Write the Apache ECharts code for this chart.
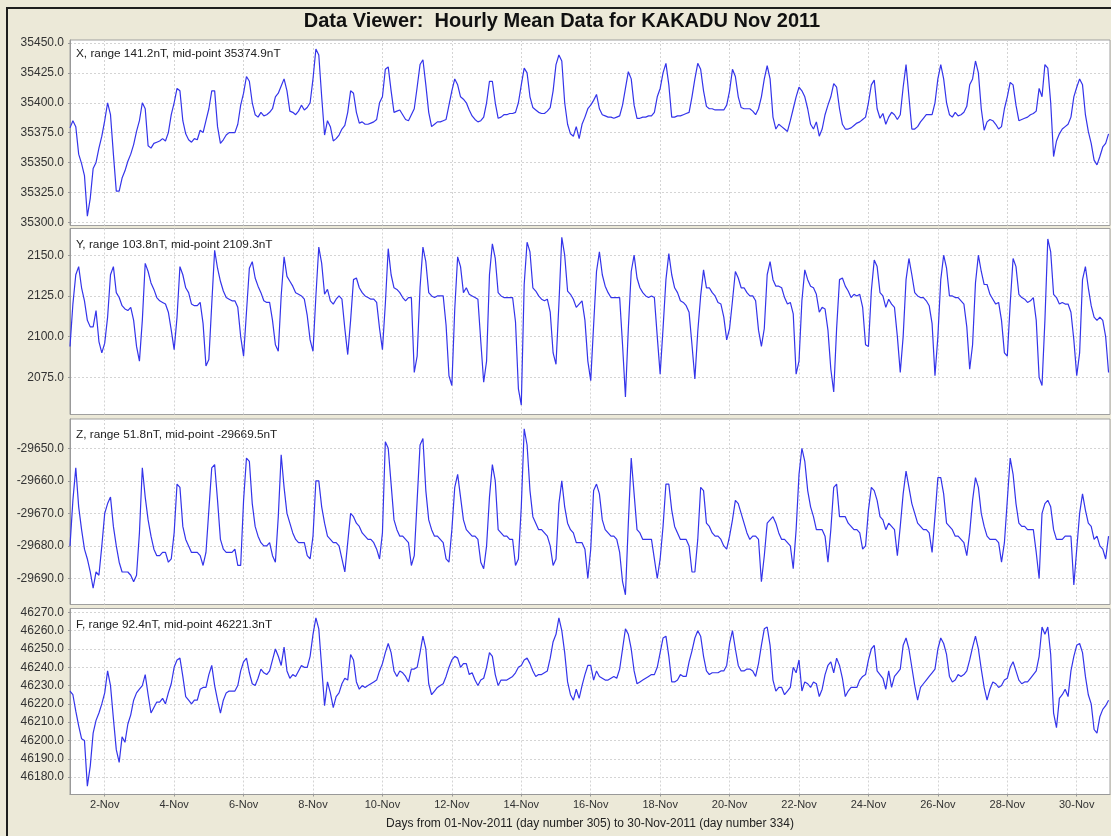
<!DOCTYPE html>
<html lang="en">
<head>
<meta charset="UTF-8" />
<title>Hourly Mean Data for KAKADU Nov 2011</title>
<script src="https://cdn.jsdelivr.net/npm/echarts@6/dist/echarts.min.js"></script>
<style>
  html, body { margin: 0; padding: 0; background: #ece9d8; }
  #main { width: 1111px; height: 836px; }
</style>
</head>
<body>
<div id="main"></div>
<script type="text/javascript">
// samples every 2 hours (12 per day), 01-Nov 00:00 .. 30-Nov 22:00 UT, one row per day
var xVals = [
  35379, 35385, 35380, 35357, 35349, 35339, 35305, 35320, 35345, 35350, 35362, 35372,
  35385, 35400, 35390, 35357, 35326, 35326, 35337, 35343, 35351, 35357, 35365, 35376,
  35385, 35400, 35395, 35364, 35362, 35366, 35367, 35368, 35370, 35368, 35375, 35390,
  35400, 35412, 35410, 35385, 35374, 35369, 35367, 35370, 35369, 35377, 35375, 35385,
  35395, 35410, 35410, 35380, 35366, 35369, 35373, 35375, 35375, 35375, 35382, 35398,
  35408, 35422, 35418, 35400, 35390, 35388, 35392, 35389, 35390, 35392, 35395, 35405,
  35408, 35414, 35420, 35410, 35393, 35392, 35390, 35393, 35398, 35394, 35396, 35400,
  35420, 35445, 35440, 35405, 35373, 35385, 35380, 35368, 35370, 35373, 35378, 35381,
  35392, 35410, 35408, 35392, 35383, 35384, 35382, 35382, 35383, 35384, 35386, 35400,
  35405, 35428, 35430, 35410, 35392, 35393, 35394, 35390, 35386, 35385, 35390, 35395,
  35413, 35432, 35436, 35415, 35392, 35380, 35382, 35384, 35384, 35385, 35386, 35398,
  35410, 35420, 35415, 35405, 35403, 35400, 35394, 35389, 35386, 35384, 35385, 35388,
  35400, 35418, 35418, 35400, 35387, 35388, 35390, 35390, 35391, 35391, 35392, 35400,
  35415, 35429, 35425, 35405, 35396, 35394, 35392, 35391, 35391, 35393, 35396, 35410,
  35432, 35440, 35435, 35400, 35382, 35374, 35372, 35380, 35370, 35382, 35388, 35395,
  35398, 35402, 35407, 35395, 35390, 35389, 35388, 35388, 35387, 35388, 35389, 35398,
  35412, 35426, 35420, 35398, 35387, 35387, 35388, 35388, 35389, 35389, 35392, 35405,
  35412, 35425, 35433, 35415, 35388, 35388, 35389, 35389, 35390, 35391, 35392, 35405,
  35420, 35433, 35428, 35410, 35397, 35395, 35395, 35394, 35394, 35394, 35394, 35398,
  35410, 35428, 35422, 35405, 35396, 35395, 35395, 35395, 35393, 35390, 35395, 35405,
  35420, 35431, 35420, 35388, 35378, 35382, 35380, 35378, 35376, 35385, 35395, 35405,
  35413, 35410, 35405, 35395, 35382, 35378, 35384, 35372, 35378, 35390, 35398, 35405,
  35416, 35413, 35395, 35382, 35378, 35378, 35379, 35381, 35383, 35384, 35386, 35388,
  35400, 35415, 35419, 35395, 35387, 35391, 35382, 35388, 35392, 35390, 35386, 35390,
  35413, 35432, 35405, 35378, 35378, 35380, 35384, 35387, 35390, 35390, 35390, 35400,
  35420, 35432, 35420, 35400, 35390, 35388, 35392, 35389, 35390, 35392, 35397, 35415,
  35420, 35435, 35425, 35395, 35377, 35384, 35386, 35385, 35382, 35378, 35380, 35395,
  35405, 35417, 35415, 35398, 35385, 35386, 35387, 35388, 35390, 35391, 35393, 35412,
  35405, 35432, 35429, 35400, 35355, 35368, 35374, 35378, 35380, 35382, 35388, 35405,
  35413, 35420, 35415, 35390, 35376, 35366, 35352, 35348, 35355, 35363, 35366, 35374
];
var yVals = [
  2094, 2120, 2138, 2143, 2130, 2122, 2110, 2106, 2106, 2116, 2097, 2090,
  2096, 2112, 2138, 2143, 2127, 2124, 2119, 2117, 2116, 2118, 2110, 2094,
  2085, 2110, 2145, 2140, 2133, 2129, 2124, 2122, 2121, 2120, 2115, 2104,
  2092, 2112, 2143, 2138, 2130, 2127, 2120, 2119, 2119, 2121, 2108, 2082,
  2086, 2120, 2153, 2142, 2134, 2128, 2124, 2123, 2122, 2122, 2118, 2100,
  2088, 2115, 2142, 2146, 2136, 2131, 2127, 2122, 2121, 2121, 2110, 2095,
  2091, 2125, 2149, 2137, 2134, 2131, 2127, 2126, 2125, 2123, 2113, 2098,
  2091, 2125, 2155, 2145, 2126, 2129, 2122, 2120, 2123, 2125, 2123, 2105,
  2089, 2110, 2135, 2136, 2130, 2127, 2125, 2124, 2123, 2123, 2121, 2105,
  2092, 2120, 2154, 2138, 2130, 2129, 2127, 2124, 2122, 2124, 2124, 2078,
  2088, 2130, 2155, 2146, 2127, 2125, 2124, 2125, 2125, 2125, 2107, 2076,
  2070, 2117, 2149, 2143, 2127, 2130, 2126, 2125, 2124, 2123, 2097, 2072,
  2085, 2138, 2157, 2148, 2127, 2125, 2124, 2124, 2124, 2124, 2109, 2068,
  2058, 2132, 2158, 2152, 2130, 2128, 2125, 2123, 2122, 2123, 2115, 2090,
  2083, 2120, 2161, 2150, 2128, 2126, 2123, 2118, 2120, 2122, 2110, 2085,
  2073, 2107, 2140, 2152, 2138, 2131, 2127, 2124, 2124, 2124, 2124, 2095,
  2063, 2105, 2140, 2150, 2136, 2130, 2127, 2125, 2124, 2125, 2124, 2100,
  2077, 2105, 2135, 2151, 2138, 2130, 2127, 2122, 2121, 2119, 2115, 2095,
  2074, 2103, 2125, 2141, 2130, 2130, 2127, 2125, 2121, 2120, 2112, 2098,
  2105, 2122, 2140, 2136, 2130, 2130, 2127, 2125, 2125, 2122, 2104, 2094,
  2105, 2138, 2146, 2135, 2131, 2131, 2130, 2124, 2120, 2121, 2114, 2077,
  2085, 2122, 2141, 2135, 2131, 2130, 2126, 2115, 2118, 2117, 2104, 2080,
  2066, 2105, 2135, 2136, 2131, 2128, 2124, 2126, 2125, 2126, 2118, 2095,
  2094, 2128, 2147, 2143, 2127, 2125, 2118, 2123, 2120, 2118, 2100, 2078,
  2100, 2135, 2148, 2138, 2127, 2125, 2124, 2124, 2122, 2119, 2108, 2076,
  2100, 2135, 2150, 2142, 2125, 2125, 2124, 2124, 2122, 2120, 2106, 2080,
  2095, 2133, 2150, 2140, 2132, 2132, 2126, 2123, 2120, 2121, 2110, 2090,
  2088, 2120, 2148, 2143, 2126, 2124, 2123, 2121, 2122, 2124, 2110, 2075,
  2070, 2110, 2160, 2152, 2126, 2124, 2120, 2121, 2120, 2120, 2115, 2098,
  2076, 2090, 2135, 2143, 2130, 2119, 2112, 2110, 2112, 2110, 2100, 2078
];
var zVals = [
  -29680, -29666, -29656, -29668, -29675, -29681, -29684, -29688, -29693, -29688, -29689, -29680,
  -29670, -29667, -29665, -29674, -29680, -29685, -29688, -29688, -29688, -29689, -29691, -29689,
  -29676, -29656, -29665, -29672, -29677, -29681, -29683, -29683, -29682, -29682, -29685, -29684,
  -29676, -29661, -29662, -29674, -29678, -29680, -29682, -29682, -29682, -29683, -29686, -29682,
  -29669, -29656, -29655, -29666, -29678, -29681, -29682, -29682, -29682, -29681, -29686, -29686,
  -29666, -29653, -29654, -29667, -29674, -29677, -29679, -29680, -29680, -29679, -29683, -29685,
  -29671, -29652, -29662, -29670, -29673, -29676, -29678, -29679, -29679, -29679, -29683, -29684,
  -29677, -29660, -29660, -29668, -29673, -29677, -29678, -29679, -29679, -29680, -29684, -29688,
  -29679, -29670, -29671, -29673, -29674, -29676, -29677, -29678, -29678, -29679, -29681, -29684,
  -29676, -29648, -29650, -29661, -29672, -29675, -29677, -29677, -29678, -29679, -29686, -29683,
  -29666, -29649, -29647, -29663, -29672, -29675, -29677, -29677, -29678, -29679, -29684, -29685,
  -29675, -29662, -29658, -29665, -29672, -29675, -29676, -29677, -29677, -29678, -29685, -29687,
  -29680, -29665, -29655, -29660, -29675, -29676, -29677, -29677, -29678, -29678, -29686, -29684,
  -29668, -29644, -29649, -29663, -29671, -29673, -29675, -29675, -29676, -29677, -29680, -29686,
  -29684, -29667, -29660, -29668, -29673, -29675, -29676, -29679, -29679, -29679, -29681, -29690,
  -29681, -29663, -29661, -29664, -29672, -29675, -29676, -29677, -29677, -29678, -29682, -29691,
  -29695, -29673, -29653, -29664, -29675, -29676, -29678, -29678, -29678, -29678, -29684, -29690,
  -29684, -29674, -29661, -29661, -29669, -29674, -29676, -29678, -29678, -29678, -29680, -29688,
  -29688, -29678, -29662, -29663, -29673, -29674, -29676, -29677, -29677, -29678, -29680, -29681,
  -29677, -29672, -29666, -29667, -29670, -29673, -29676, -29678, -29677, -29677, -29678, -29691,
  -29683, -29673, -29672, -29671, -29673, -29676, -29678, -29678, -29679, -29680, -29687, -29675,
  -29658, -29650, -29654, -29663, -29668, -29671, -29675, -29675, -29675, -29677, -29685, -29675,
  -29662, -29661, -29671, -29671, -29671, -29673, -29674, -29675, -29675, -29676, -29681, -29680,
  -29669, -29662, -29663, -29666, -29671, -29672, -29675, -29673, -29674, -29675, -29683, -29674,
  -29664, -29657, -29662, -29667, -29670, -29673, -29674, -29675, -29675, -29676, -29682, -29671,
  -29659, -29659, -29664, -29673, -29674, -29675, -29677, -29677, -29678, -29679, -29683, -29676,
  -29666, -29659, -29662, -29670, -29674, -29677, -29678, -29678, -29678, -29679, -29685, -29679,
  -29666, -29653, -29658, -29667, -29673, -29674, -29674, -29675, -29675, -29675, -29682, -29690,
  -29670, -29667, -29666, -29668, -29675, -29678, -29678, -29678, -29677, -29677, -29677, -29692,
  -29681, -29670, -29664, -29669, -29673, -29674, -29678, -29677, -29680, -29681, -29684, -29677
];
var fVals = [
  46227, 46225, 46216, 46208, 46201, 46200, 46175, 46186, 46204, 46211, 46215, 46220,
  46226, 46238, 46230, 46212, 46195, 46188, 46202, 46199, 46209, 46214, 46222, 46226,
  46228, 46230, 46236, 46225, 46215, 46218, 46221, 46221, 46223, 46220, 46226, 46231,
  46240, 46244, 46245, 46235, 46224, 46222, 46220, 46222, 46222, 46228, 46229, 46229,
  46236, 46241, 46230, 46222, 46215, 46222, 46226, 46227, 46227, 46227, 46230, 46238,
  46243, 46245, 46237, 46231, 46230, 46234, 46239, 46237, 46236, 46238, 46244, 46250,
  46246, 46241, 46251, 46238, 46234, 46236, 46235, 46238, 46241, 46240, 46240, 46246,
  46258, 46267, 46261, 46240, 46219, 46232, 46226, 46218, 46224, 46226, 46231, 46234,
  46233, 46247, 46244, 46232, 46228, 46230, 46229, 46230, 46231, 46232, 46233, 46238,
  46242, 46248, 46253, 46248, 46238, 46235, 46238, 46237, 46235, 46232, 46239, 46239,
  46240, 46248, 46257, 46250, 46231, 46225, 46227, 46229, 46230, 46231, 46235, 46240,
  46244, 46246, 46245, 46240, 46242, 46242, 46236, 46237, 46233, 46230, 46233, 46234,
  46240, 46248, 46246, 46236, 46230, 46233, 46233, 46233, 46234, 46235, 46237, 46240,
  46241, 46244, 46245, 46242, 46238, 46235, 46236, 46236, 46237, 46238, 46245, 46254,
  46258, 46267, 46260, 46248, 46232, 46225, 46222, 46228, 46223, 46230, 46236, 46241,
  46241, 46233, 46238, 46235, 46234, 46233, 46233, 46234, 46235, 46234, 46239, 46250,
  46261, 46258, 46250, 46238, 46231, 46232, 46233, 46234, 46235, 46236, 46236, 46240,
  46248, 46256, 46257, 46246, 46232, 46232, 46233, 46236, 46235, 46235, 46243, 46249,
  46256, 46260, 46257, 46246, 46238, 46236, 46237, 46237, 46237, 46238, 46238, 46241,
  46253, 46260, 46250, 46241, 46238, 46238, 46239, 46239, 46238, 46235, 46242, 46252,
  46261, 46262, 46252, 46233, 46227, 46229, 46229, 46225, 46227, 46229, 46240, 46237,
  46244, 46227, 46232, 46231, 46229, 46232, 46231, 46224, 46228, 46236, 46241, 46243,
  46237, 46245, 46241, 46234, 46224, 46227, 46229, 46229, 46229, 46233, 46235, 46236,
  46244, 46250, 46252, 46238, 46236, 46234, 46228, 46238, 46229, 46235, 46237, 46239,
  46252, 46256, 46250, 46240, 46230, 46222, 46229, 46231, 46233, 46235, 46237, 46239,
  46250, 46256, 46253, 46247, 46235, 46232, 46233, 46236, 46235, 46236, 46238, 46244,
  46251, 46257, 46250, 46239, 46229, 46222, 46228, 46232, 46231, 46229, 46230, 46233,
  46234, 46240, 46243, 46238, 46233, 46231, 46232, 46232, 46234, 46236, 46238, 46246,
  46262, 46258, 46262, 46247, 46215, 46207, 46223, 46225, 46228, 46224, 46238, 46246,
  46252, 46253, 46248, 46235, 46225, 46220, 46206, 46204, 46213, 46217, 46219, 46222
];

// panel headers and y ticks
var compNames = ["X", "Y", "Z", "F"];
var compRanges = [141.2, 103.8, 51.8, 92.4];
var compMids = [35374.9, 2109.3, -29669.5, 46221.3];
var yTicks = [
  [35300, 35325, 35350, 35375, 35400, 35425, 35450],
  [2075, 2100, 2125, 2150],
  [-29690, -29680, -29670, -29660, -29650],
  [46180, 46190, 46200, 46210, 46220, 46230, 46240, 46250, 46260, 46270]
];
// x tick labels: every 2nd day from 2-Nov
var dayLabels = [2, 4, 6, 8, 10, 12, 14, 16, 18, 20, 22, 24, 26, 28, 30];

var allVals = [xVals, yVals, zVals, fVals];
var hours = [];
for (var i = 0; i < xVals.length; i++) hours.push(i * 2);
var dayTicks = dayLabels.map(function (d) { return (d - 1) * 24; });

var FONT = '"Liberation Sans", Arial, sans-serif';
var gridTops = [40, 228.5, 419, 608.5];
var gridHeights = [185.5, 186, 185.5, 186];
var lineBlue = "#3434ea";
var gridDash = { color: "#d4d4d4", type: [2, 2], width: 1 };

var grids = [], xAxes = [], yAxes = [], series = [], labels = [];
var labelY = [54, 245, 435, 625];

for (var p = 0; p < 4; p++) {
  var last = p === 3;
  var half = compRanges[p] * 0.55; // data range plus 5% each side
  grids.push({
    left: 70, width: 1040, top: gridTops[p], height: gridHeights[p],
    show: true, backgroundColor: "#fff", borderColor: "#a0a0a0", borderWidth: 1
  });
  xAxes.push({
    type: "value", gridIndex: p, min: 0, max: 719,
    axisLine: { show: last, lineStyle: { color: "#999" } },
    axisTick: { show: last, length: 2, lineStyle: { color: "#999" }, customValues: dayTicks },
    axisLabel: {
      show: last, customValues: dayTicks, margin: 5,
      color: "#333", fontSize: 11, fontFamily: FONT,
      formatter: function (v) { return Math.round(v / 24 + 1) + "-Nov"; }
    },
    splitLine: { show: true, lineStyle: gridDash }
  });
  yAxes.push({
    type: "value", gridIndex: p,
    min: compMids[p] - half, max: compMids[p] + half,
    axisLine: { show: true, lineStyle: { color: "#999" } },
    axisTick: { show: true, length: 2, lineStyle: { color: "#999" }, customValues: yTicks[p] },
    axisLabel: {
      customValues: yTicks[p], margin: 6,
      color: "#333", fontSize: 12, fontFamily: FONT,
      formatter: function (v) { return v.toFixed(1); }
    },
    splitLine: { show: true, lineStyle: gridDash }
  });
  series.push({
    type: "line", xAxisIndex: p, yAxisIndex: p,
    showSymbol: false, animation: false,
    lineStyle: { color: lineBlue, width: 1.2 },
    data: hours.map(function (h, i) { return [h, allVals[p][i]]; })
  });
  labels.push({
    type: "text", x: 76, y: labelY[p], z: 10,
    style: {
      text: compNames[p] + ", range " + compRanges[p].toFixed(1) + "nT, mid-point " + compMids[p].toFixed(1) + "nT",
      fill: "#222", fontSize: 11.8, fontFamily: FONT, verticalAlign: "middle"
    }
  });
}

var chart = echarts.init(document.getElementById("main"));
chart.setOption({
  backgroundColor: "#ece9d8",
  animation: false,
  grid: grids,
  xAxis: xAxes,
  yAxis: yAxes,
  series: series,
  graphic: labels.concat([
    {
      type: "text", x: 562, y: 21,
      style: {
        text: "Data Viewer:  Hourly Mean Data for KAKADU Nov 2011",
        fill: "#111", fontSize: 20, fontWeight: "bold", fontFamily: FONT,
        align: "center", verticalAlign: "middle"
      }
    },
    {
      type: "text", x: 590, y: 824,
      style: {
        text: "Days from 01-Nov-2011 (day number 305) to 30-Nov-2011 (day number 334)",
        fill: "#222", fontSize: 12, fontFamily: FONT,
        align: "center", verticalAlign: "middle"
      }
    },
    { type: "line", shape: { x1: 7, y1: 8, x2: 7, y2: 836 }, style: { stroke: "#1e1e1e", lineWidth: 2 } },
    { type: "line", shape: { x1: 6, y1: 8, x2: 1111, y2: 8 }, style: { stroke: "#1e1e1e", lineWidth: 2 } }
  ])
});
</script>
</body>
</html>
